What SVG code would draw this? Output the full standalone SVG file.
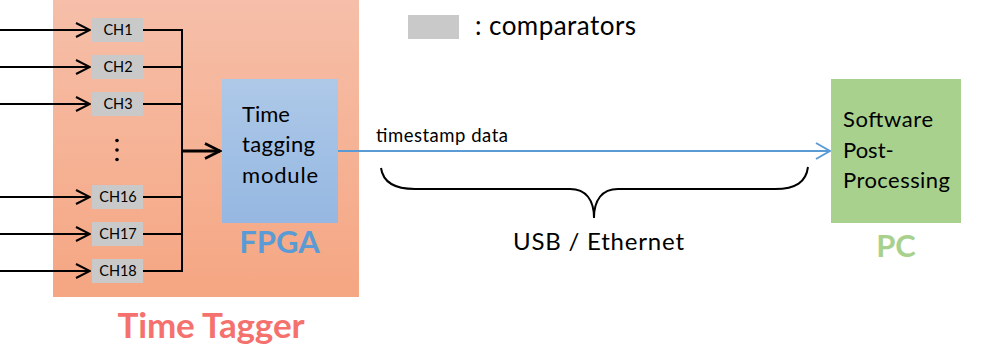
<svg xmlns="http://www.w3.org/2000/svg" width="986" height="357" viewBox="0 0 986 357">
<defs>
<linearGradient id="gTT" x1="0" y1="0" x2="0" y2="1">
<stop offset="0" stop-color="#f6bfa9"/>
<stop offset="1" stop-color="#f5a682"/>
</linearGradient>
<linearGradient id="gFP" x1="0" y1="0" x2="0" y2="1">
<stop offset="0" stop-color="#aec9e8"/>
<stop offset="1" stop-color="#95b7e1"/>
</linearGradient>
<marker id="arrBlack" viewBox="0 0 16 16" refX="15" refY="8" markerWidth="16" markerHeight="16" markerUnits="userSpaceOnUse" orient="auto">
<path d="M1,1 L15,8 L1,15" fill="none" stroke="#000" stroke-width="2"/>
</marker>
<marker id="arrBlackThick" viewBox="0 0 18 18" refX="16" refY="9" markerWidth="18" markerHeight="18" markerUnits="userSpaceOnUse" orient="auto">
<path d="M1,1.5 L16,9 L1,16.5" fill="none" stroke="#000" stroke-width="2.6"/>
</marker>
<marker id="arrBlue" viewBox="0 0 16 18" refX="15" refY="9" markerWidth="16" markerHeight="18" markerUnits="userSpaceOnUse" orient="auto">
<path d="M1,1 L15,9 L1,17" fill="none" stroke="#5b9bd5" stroke-width="2"/>
</marker>
</defs>
<style>
text { font-family: Lato, "Open Sans", "Liberation Sans", sans-serif; fill: #000; }
.cmp { fill: #c9c9c9; }
.ch { font-size: 14.5px; text-anchor: middle; }
.lbl { font-size: 22px; }
.big { font-weight: bold; text-anchor: middle; }
.wire { fill: none; stroke: #000; stroke-width: 2; }
</style>

<g id="time-tagger">
<rect x="53" y="0" width="306" height="297" fill="url(#gTT)"/>
<text class="big" x="211" y="338" style="font-size:35px;fill:#f4716e" textLength="187" lengthAdjust="spacing">Time Tagger</text>
</g>

<g id="ch1"><rect class="cmp" x="92" y="18" width="51" height="24"/><text class="ch" x="118" y="35">CH1</text></g>
<g id="ch2"><rect class="cmp" x="92" y="55" width="51" height="24"/><text class="ch" x="118" y="72">CH2</text></g>
<g id="ch3"><rect class="cmp" x="92" y="92" width="51" height="24"/><text class="ch" x="118" y="109">CH3</text></g>
<g id="dots" fill="#000"><circle cx="117" cy="140.5" r="1.8"/><circle cx="117" cy="150" r="1.8"/><circle cx="117" cy="159.5" r="1.8"/></g>
<g id="ch16"><rect class="cmp" x="92" y="185" width="51" height="24"/><text class="ch" x="118" y="202">CH16</text></g>
<g id="ch17"><rect class="cmp" x="92" y="222" width="51" height="24"/><text class="ch" x="118" y="239">CH17</text></g>
<g id="ch18"><rect class="cmp" x="92" y="259" width="51" height="24"/><text class="ch" x="118" y="276">CH18</text></g>

<g id="fpga">
<rect x="222" y="79" width="116" height="144" fill="url(#gFP)"/>
<text class="lbl" x="242" y="122">Time</text>
<text class="lbl" x="242" y="152" textLength="73" lengthAdjust="spacing">tagging</text>
<text class="lbl" x="242" y="183" textLength="76" lengthAdjust="spacing">module</text>
<text class="big" x="279.5" y="253" style="font-size:31px;fill:#5b9bd5">FPGA</text>
</g>

<g id="pc">
<rect x="831" y="79" width="130" height="144" fill="#a9d18e"/>
<text class="lbl" x="843" y="127" textLength="90" lengthAdjust="spacing">Software</text>
<text class="lbl" x="843" y="158">Post-</text>
<text class="lbl" x="843" y="188" textLength="107" lengthAdjust="spacing">Processing</text>
<text class="big" x="896" y="257" style="font-size:31px;fill:#a9d18e">PC</text>
</g>

<g id="legend">
<rect class="cmp" x="408" y="15" width="51" height="24"/>
<text x="475" y="35" font-size="26" textLength="161" lengthAdjust="spacing">: comparators</text>
</g>

<g id="connectors">
<line class="wire" x1="0" y1="30" x2="90" y2="30" marker-end="url(#arrBlack)"/>
<line class="wire" x1="0" y1="67" x2="90" y2="67" marker-end="url(#arrBlack)"/>
<line class="wire" x1="0" y1="104" x2="90" y2="104" marker-end="url(#arrBlack)"/>
<line class="wire" x1="0" y1="197" x2="90" y2="197" marker-end="url(#arrBlack)"/>
<line class="wire" x1="0" y1="234" x2="90" y2="234" marker-end="url(#arrBlack)"/>
<line class="wire" x1="0" y1="271" x2="90" y2="271" marker-end="url(#arrBlack)"/>
<path class="wire" d="M143,30 H182 M143,67 H182 M143,104 H182 M143,197 H182 M143,234 H182 M143,271 H182 M182,29 V272"/>
<line x1="182" y1="151" x2="220" y2="151" stroke="#000" stroke-width="3" marker-end="url(#arrBlackThick)"/>
<line x1="338" y1="151" x2="830" y2="151" stroke="#5b9bd5" stroke-width="2" marker-end="url(#arrBlue)"/>
<text x="376" y="142" font-size="18.5" textLength="132" lengthAdjust="spacing">timestamp data</text>
<path d="M381,168 C383,182 394,189 415,189 H570 C586,189 594,200 594,218 C594,200 602,189 618,189 H775 C796,189 806,182 808,167" fill="none" stroke="#000" stroke-width="2"/>
<text x="513" y="250" font-size="24" textLength="171" lengthAdjust="spacing">USB / Ethernet</text>
</g>
</svg>
